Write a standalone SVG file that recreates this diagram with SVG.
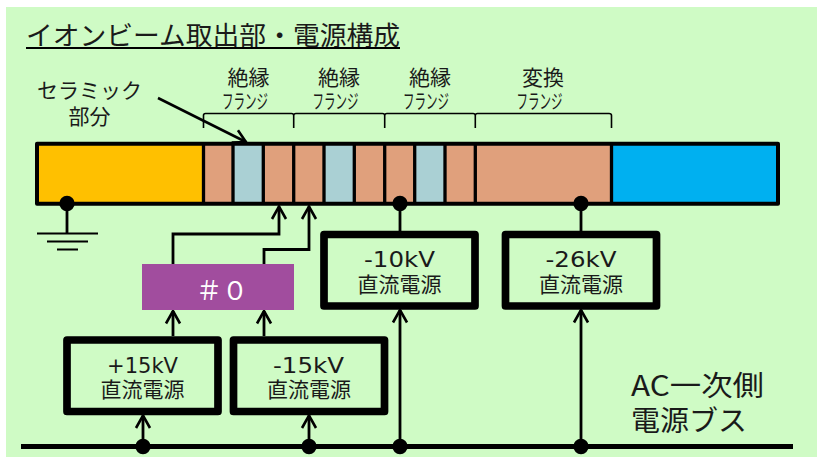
<svg xmlns="http://www.w3.org/2000/svg" width="817" height="457" viewBox="0 0 817 457">
<style>
text{font-family:"Noto Sans CJK JP","Noto Sans",sans-serif;fill:#1a1a1a;font-weight:400}
.t{text-anchor:start;font-size:21px}
.c{text-anchor:middle}
.s{font-family:"DejaVu Sans",sans-serif;font-size:21px}
.f{font-size:20px}
.seg{stroke:#000;stroke-width:3.300}
.psu{fill:none;stroke:#000;stroke-width:7.700;stroke-linejoin:round}
.w{fill:none;stroke:#000;stroke-width:2.800}
.b{fill:none;stroke:#000;stroke-width:1.600}
.d{fill:#000}
</style>
<defs>
<marker id="a" viewBox="0 0 16 18" refX="14.500" refY="9" markerWidth="16" markerHeight="18" markerUnits="userSpaceOnUse" orient="auto"><path d="M2 2 14.500 9 2 16" fill="none" stroke="#000" stroke-width="2.600"/></marker>
</defs>
<rect x="6" y="7" width="811" height="450" fill="#cffbc5"/>
<g id="title"><text x="26" y="45" font-size="26.600" textLength="374" lengthAdjust="spacingAndGlyphs">イオンビーム取出部・電源構成</text><rect x="26" y="47" width="374" height="2" fill="#000"/></g>
<g id="beam-bar">
<rect x="37" y="143.700" width="166.500" height="60" fill="#ffc000"/>
<rect x="203.500" y="143.700" width="408" height="60" fill="#e0a07c"/>
<rect x="233" y="143.700" width="30.300" height="60" fill="#aad0d4"/>
<rect x="324" y="143.700" width="30.300" height="60" fill="#aad0d4"/>
<rect x="414.700" y="143.700" width="30.300" height="60" fill="#aad0d4"/>
<rect x="611.500" y="143.700" width="166.500" height="60" fill="#00b0f0"/>
<path class="seg" d="M203.500 143.700v60M233 143.700v60M263.300 143.700v60M293.700 143.700v60M324 143.700v60M354.300 143.700v60M384.700 143.700v60M414.700 143.700v60M445 143.700v60M475.300 143.700v60M611.500 143.700v60"/>
<rect x="37" y="143.700" width="741" height="60" fill="none" stroke="#000" stroke-width="4" stroke-linejoin="round"/>
</g>
<g id="flange-labels">
<path class="b" d="M203.500 128V115.500Q203.500 113.500 205.500 113.500H291.500Q293.700 113.500 293.700 115.500V128M293.700 115.500Q293.700 113.500 296 113.500H382.500Q384.700 113.500 384.700 115.500V128M384.700 115.500Q384.700 113.500 387 113.500H473Q475.300 113.500 475.300 115.500V128M475.300 115.500Q475.300 113.500 477.500 113.500H609Q611.500 113.500 611.500 115.500V128"/>
<text class="t"><tspan x="227.500" y="85">絶縁</tspan><tspan class="f" x="222" y="109" textLength="46" lengthAdjust="spacingAndGlyphs">フランジ</tspan></text>
<text class="t"><tspan x="318" y="85">絶縁</tspan><tspan class="f" x="312.500" y="109" textLength="46" lengthAdjust="spacingAndGlyphs">フランジ</tspan></text>
<text class="t"><tspan x="409" y="85">絶縁</tspan><tspan class="f" x="403" y="109" textLength="46" lengthAdjust="spacingAndGlyphs">フランジ</tspan></text>
<text class="t"><tspan x="522" y="85">変換</tspan><tspan class="f" x="516.500" y="109" textLength="46" lengthAdjust="spacingAndGlyphs">フランジ</tspan></text>
<text class="t c"><tspan x="89.500" y="98">セラミック</tspan><tspan x="89.500" y="124">部分</tspan></text>
</g>
<g id="psu-p15"><rect class="psu" x="67" y="340" width="151" height="71.500"/><text class="t"><tspan class="s" x="107" y="372.500" textLength="71" lengthAdjust="spacingAndGlyphs">+15kV</tspan><tspan x="100.500" y="397">直流電源</tspan></text></g>
<g id="psu-m15"><rect class="psu" x="233.500" y="340" width="151" height="71.500"/><text class="t"><tspan class="s" x="273" y="372.500" textLength="71" lengthAdjust="spacingAndGlyphs">-15kV</tspan><tspan x="267" y="397">直流電源</tspan></text></g>
<g id="psu-m10"><rect class="psu" x="324" y="234.500" width="151" height="71.500"/><text class="t"><tspan class="s" x="364" y="267" textLength="71" lengthAdjust="spacingAndGlyphs">-10kV</tspan><tspan x="357.500" y="291.500">直流電源</tspan></text></g>
<g id="psu-m26"><rect class="psu" x="505.500" y="234.500" width="151" height="71.500"/><text class="t"><tspan class="s" x="545.500" y="267" textLength="71" lengthAdjust="spacingAndGlyphs">-26kV</tspan><tspan x="539" y="291.500">直流電源</tspan></text></g>
<g id="switch-0"><rect x="142" y="264" width="152" height="46" fill="#a14d9e"/><text x="196" y="300" font-size="26" textLength="52" style="fill:#fff">＃０</text></g>
<g id="bus-label"><text font-size="28"><tspan x="631" y="396" textLength="133" lengthAdjust="spacingAndGlyphs">AC一次側</tspan><tspan x="631" y="431" textLength="116" lengthAdjust="spacingAndGlyphs">電源ブス</tspan></text></g>
<g id="connectors">
<path d="M21 446.500H793" fill="none" stroke="#000" stroke-width="5"/>
<path class="w" d="M67 203.500V233.500"/>
<path class="b" style="stroke-width:2" d="M37 233.500H98M47 241.500H88M57 249.500H78"/>
<path class="w" d="M173 264V234H279V206.500" marker-end="url(#a)"/>
<path class="w" d="M264 264V249.500H309V206.500" marker-end="url(#a)"/>
<path class="w" d="M173 336V311" marker-end="url(#a)"/>
<path class="w" d="M264 336V311" marker-end="url(#a)"/>
<path class="w" d="M143 446V415.500" marker-end="url(#a)"/>
<path class="w" d="M309 446V415.500" marker-end="url(#a)"/>
<path class="w" d="M400 446V310" marker-end="url(#a)"/>
<path class="w" d="M581 446V310" marker-end="url(#a)"/>
<path class="w" d="M400 203.500V231"/>
<path class="w" d="M581 203.500V231"/>
<path d="M158 98 246 142" fill="none" stroke="#000" stroke-width="2.600" marker-end="url(#a)"/>
<circle class="d" cx="67" cy="203.500" r="7.700"/>
<circle class="d" cx="400" cy="203.500" r="7.700"/>
<circle class="d" cx="581" cy="203.500" r="7.700"/>
<circle class="d" cx="143" cy="446.500" r="7.700"/>
<circle class="d" cx="309" cy="446.500" r="7.700"/>
<circle class="d" cx="400" cy="446.500" r="7.700"/>
<circle class="d" cx="581" cy="446.500" r="7.700"/>
</g>
</svg>
